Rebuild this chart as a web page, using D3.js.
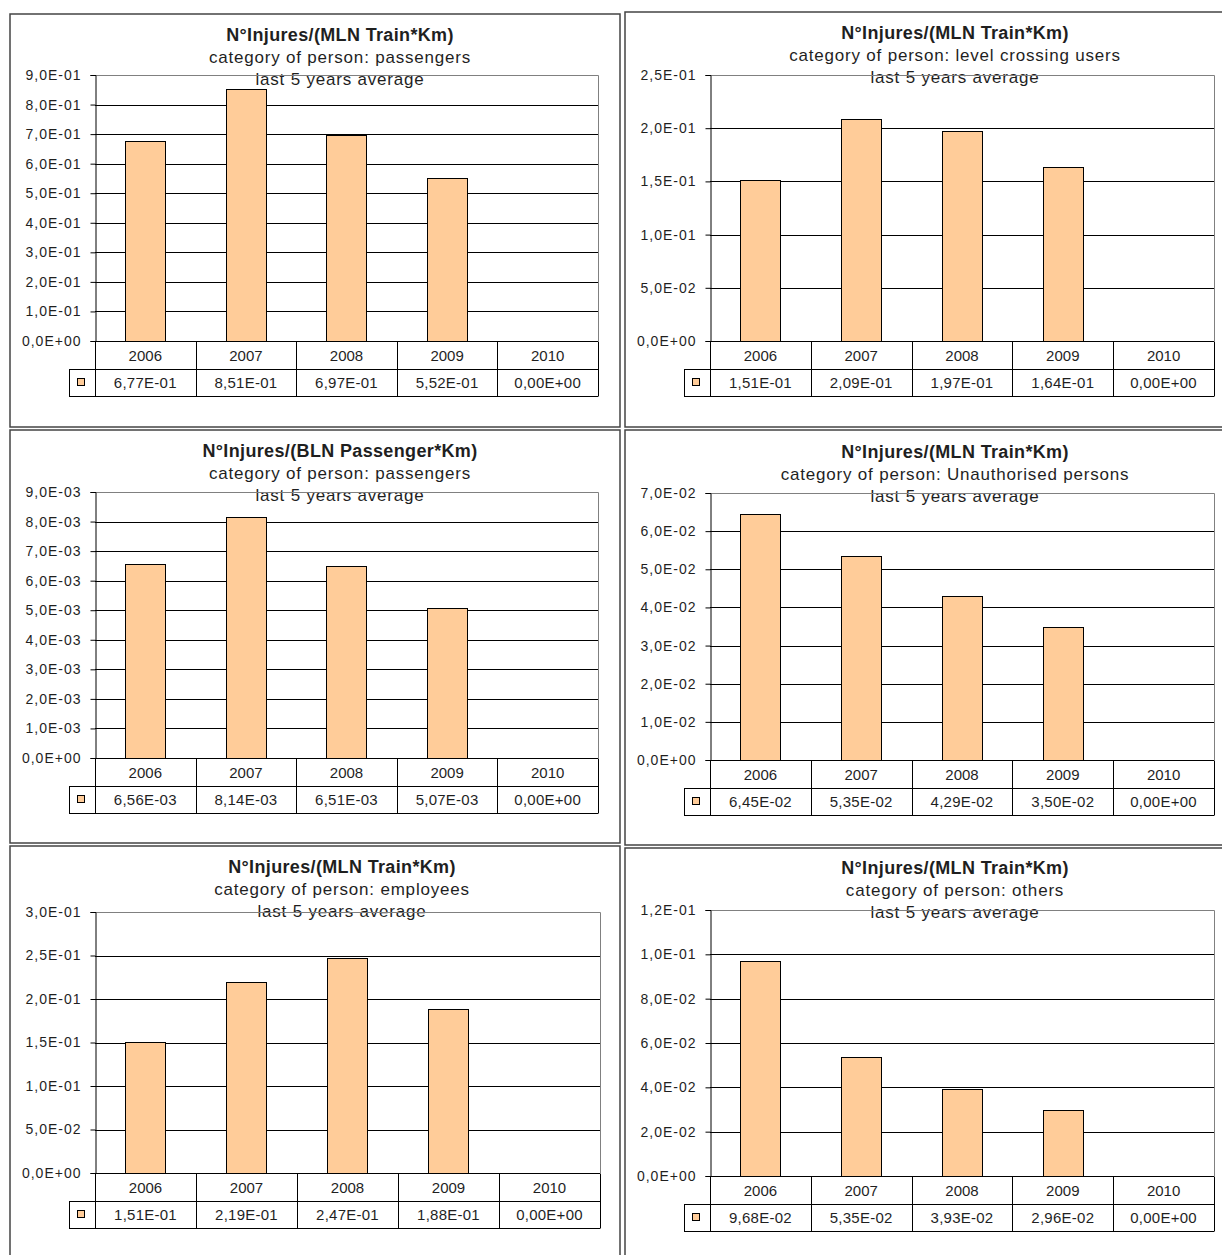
<!DOCTYPE html>
<html>
<head>
<meta charset="utf-8">
<script src="https://cdn.jsdelivr.net/npm/d3@7"></script>
<style>
  body { margin: 0; background: #fff; }
  svg { display: block; font-family: "Liberation Sans", Arial, sans-serif; }
</style>
</head>
<body>
<svg id="chart"></svg>
<script>
// data
let years = ['2006', '2007', '2008', '2009', '2010']
let titles = ['N°Injures/(MLN Train*Km)', 'N°Injures/(MLN Train*Km)', 'N°Injures/(BLN Passenger*Km)',
              'N°Injures/(MLN Train*Km)', 'N°Injures/(MLN Train*Km)', 'N°Injures/(MLN Train*Km)']
let categories = ['passengers', 'level crossing users', 'passengers',
                  'Unauthorised persons', 'employees', 'others']
let subtitle2 = 'last 5 years average'

let passengersTrain = [0.677, 0.851, 0.697, 0.552, 0]
let levelCrossing = [0.151, 0.209, 0.197, 0.164, 0]
let passengersPkm = [0.00656, 0.00814, 0.00651, 0.00507, 0]
let unauthorised = [0.0645, 0.0535, 0.0429, 0.0350, 0]
let employees = [0.151, 0.219, 0.247, 0.188, 0]
let others = [0.0968, 0.0535, 0.0393, 0.0296, 0]
let seriesList = [passengersTrain, levelCrossing, passengersPkm, unauthorised, employees, others]

let yMax = [0.9, 0.25, 0.009, 0.07, 0.3, 0.12]
let yStep = [0.1, 0.05, 0.001, 0.01, 0.05, 0.02]

// layout of the 6 panels (boxes, plot areas)
let layout = [
  {bx: 10,  by: 14,  bw: 610, bh: 413, left: 95,  right: 598,  top: 75,  zero: 341,  tx: 340, ty: 35},
  {bx: 625, by: 12,  bw: 610, bh: 415, left: 710, right: 1214, top: 75,  zero: 341,  tx: 955, ty: 33},
  {bx: 10,  by: 430, bw: 610, bh: 413, left: 95,  right: 598,  top: 492, zero: 758,  tx: 340, ty: 451},
  {bx: 625, by: 430, bw: 610, bh: 415, left: 710, right: 1214, top: 493, zero: 760,  tx: 955, ty: 452},
  {bx: 10,  by: 846, bw: 610, bh: 420, left: 95,  right: 600,  top: 912, zero: 1173, tx: 342, ty: 867},
  {bx: 625, by: 848, bw: 610, bh: 420, left: 710, right: 1214, top: 910, zero: 1176, tx: 955, ty: 868}
]

let width = 1222
let height = 1255
let barColor = '#FFCC99'
let textColor = '#1f1f1f'

let svg = d3.select('#chart').attr('width', width).attr('height', height)

let fmt = (v, d) => {
  let s = v.toExponential(d)
  let parts = s.split('e')
  let m = parts[0].replace('.', ',')
  let e = parseInt(parts[1])
  let es = (e < 0 ? '-' : '+') + String(Math.abs(e)).padStart(2, '0')
  return m + 'E' + es
}

let drawPanel = (i) => {
  let L = layout[i]
  let values = seriesList[i]
  let g = svg.append('g')

  // panel frame
  g.append('rect')
    .attr('x', L.bx).attr('y', L.by)
    .attr('width', L.bw).attr('height', L.bh)
    .attr('fill', 'none').attr('stroke', '#444').attr('stroke-width', 1.5)

  // titles
  g.append('text').attr('x', L.tx).attr('y', L.ty).attr('dy', '0.35em')
    .attr('text-anchor', 'middle').attr('font-weight', 'bold').attr('font-size', 18)
    .attr('letter-spacing', 0.35)
    .attr('fill', textColor).text(titles[i])
  g.append('text').attr('x', L.tx).attr('y', L.ty + 22).attr('dy', '0.35em')
    .attr('text-anchor', 'middle').attr('font-size', 17).attr('letter-spacing', 0.8)
    .attr('fill', textColor).text('category of person: ' + categories[i])
  g.append('text').attr('x', L.tx).attr('y', L.ty + 44).attr('dy', '0.35em')
    .attr('text-anchor', 'middle').attr('font-size', 17).attr('letter-spacing', 0.8)
    .attr('fill', textColor).text(subtitle2)

  let x = d3.scaleBand().domain(years).range([L.left, L.right]).paddingInner(0).paddingOuter(0)
  let y = d3.scaleLinear().domain([0, yMax[i]]).range([L.zero, L.top])
  let ticks = d3.range(0, yMax[i] + yStep[i] / 2, yStep[i])

  // gridlines
  g.selectAll('.grid')
    .data(ticks.slice(1, -1))
    .enter()
    .append('line')
    .attr('x1', L.left).attr('x2', L.right)
    .attr('y1', d => Math.round(y(d)) + 0.5).attr('y2', d => Math.round(y(d)) + 0.5)
    .attr('stroke', '#000').attr('stroke-width', 1)

  // plot area border (top & right) in gray
  g.append('path')
    .attr('d', `M${L.left},${L.top + 0.5}H${L.right + 0.5}V${L.zero}`)
    .attr('fill', 'none').attr('stroke', '#808080').attr('stroke-width', 1)

  // bars
  let bw = x.bandwidth() / 2.5
  g.selectAll('.bar')
    .data(values)
    .enter()
    .append('rect')
    .attr('x', (d, j) => Math.round(x(years[j]) + (x.bandwidth() - bw) / 2) + 0.5)
    .attr('y', d => Math.round(y(d)) + 0.5)
    .attr('width', Math.round(bw))
    .attr('height', d => Math.max(0, Math.round(y(0)) - Math.round(y(d))))
    .attr('fill', barColor)
    .attr('stroke', d => d > 0 ? '#000' : 'none')
    .attr('stroke-width', 1)

  // y axis
  let axis = g.append('g')
    .attr('transform', `translate(${L.left + 0.5},0)`)
    .call(d3.axisLeft(y).tickValues(ticks).tickSize(5).tickPadding(9).tickFormat(d => fmt(d, 1)))
  axis.select('.domain').attr('stroke', '#000')
  axis.selectAll('.tick line').attr('stroke', '#000')
  axis.selectAll('text').attr('font-size', 14).attr('fill', textColor)
    .attr('letter-spacing', 1)
    .attr('font-family', '"Liberation Sans", Arial, sans-serif')

  // data table
  let r1 = Math.round(y(0)) + 0.5
  let r2 = r1 + 28
  let r3 = r2 + 27
  let tbl = g.append('g').attr('stroke', '#000').attr('stroke-width', 1).attr('fill', 'none')
  tbl.append('line').attr('x1', L.left).attr('x2', L.right).attr('y1', r1).attr('y2', r1)
  tbl.append('line').attr('x1', L.left - 26).attr('x2', L.right).attr('y1', r2).attr('y2', r2)
  tbl.append('line').attr('x1', L.left - 26).attr('x2', L.right).attr('y1', r3).attr('y2', r3)
  tbl.append('line').attr('x1', L.left - 26 + 0.5).attr('x2', L.left - 26 + 0.5).attr('y1', r2).attr('y2', r3)
  tbl.selectAll('.col')
    .data(years.concat(['end']))
    .enter()
    .append('line')
    .attr('x1', (d, j) => Math.round(j < years.length ? x(d) : L.right) + 0.5)
    .attr('x2', (d, j) => Math.round(j < years.length ? x(d) : L.right) + 0.5)
    .attr('y1', r1).attr('y2', r3)

  g.selectAll('.year')
    .data(years)
    .enter()
    .append('text')
    .attr('x', d => x(d) + x.bandwidth() / 2)
    .attr('y', (r1 + r2) / 2).attr('dy', '0.35em')
    .attr('text-anchor', 'middle').attr('font-size', 15).attr('fill', textColor)
    .text(d => d)

  g.selectAll('.val')
    .data(values)
    .enter()
    .append('text')
    .attr('x', (d, j) => x(years[j]) + x.bandwidth() / 2)
    .attr('y', (r2 + r3) / 2).attr('dy', '0.35em')
    .attr('text-anchor', 'middle').attr('font-size', 15).attr('letter-spacing', 0.25)
    .attr('fill', textColor)
    .text(d => fmt(d, 2))

  // legend key
  g.append('rect')
    .attr('x', L.left - 17.5).attr('y', Math.round((r2 + r3) / 2) - 4.5)
    .attr('width', 7).attr('height', 7)
    .attr('fill', barColor).attr('stroke', '#000').attr('stroke-width', 1)
}

for (let i = 0; i < layout.length; i++) {
  drawPanel(i)
}
</script>
</body>
</html>
